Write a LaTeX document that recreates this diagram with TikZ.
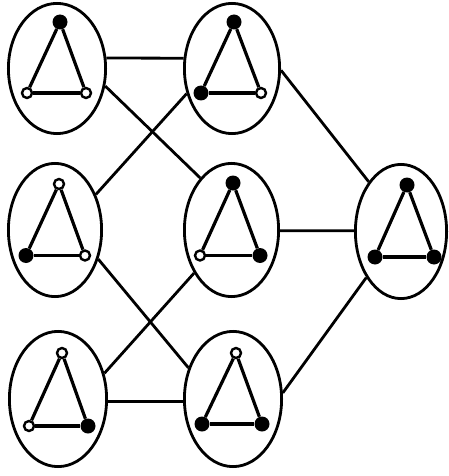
\documentclass[tikz,border=0pt]{standalone}
\usetikzlibrary{shapes.geometric}
\begin{document}
\begin{tikzpicture}[x=1pt,y=-1pt,
  ell/.style={ellipse, draw, line width=2.8pt, inner sep=0pt},
  link/.style={line width=2.8pt},
  triedge/.style={line width=3.2pt},
  bdot/.style={circle, fill=black, inner sep=0pt, minimum size=15pt},
  wdot/.style={circle, draw, fill=white, line width=2.4pt, inner sep=0pt, minimum size=10pt}]
\useasboundingbox (0,0) rectangle (449,476);
% ellipses
\node[ell, minimum width=97.2pt, minimum height=130.2pt] (e1) at (57,68.5) {};
\node[ell, minimum width=95.2pt, minimum height=130.2pt] (e2) at (232,68.5) {};
\node[ell, minimum width=93.2pt, minimum height=133.2pt] (e3) at (55,230) {};
\node[ell, minimum width=94.2pt, minimum height=133.2pt] (e4) at (231.5,230) {};
\node[ell, minimum width=91.2pt, minimum height=134.2pt] (e5) at (401,231.5) {};
\node[ell, minimum width=97.2pt, minimum height=135.2pt] (e6) at (58,399) {};
\node[ell, minimum width=97.2pt, minimum height=135.2pt] (e7) at (233,399) {};
% connectors
\draw[link] (e1.12) -- (e2.168);
\draw[link] (e1.-20) -- (e4.121);
\draw[link] (e3.41) -- (e2.-151);
\draw[link] (e3.-34) -- (e7.145);
\draw[link] (e6.29) -- (e4.-131);
\draw[link] (e6.-3) -- (e7.183);
\draw[link] (e2.-2) -- (e5.123);
\draw[link] (e4.-1) -- (e5.179);
\draw[link] (e7.7) -- (e5.-127);
% dots
\node[bdot] (e1a) at (60,22) {};
\node[wdot] (e1b) at (27,93) {};
\node[wdot] (e1c) at (86,93) {};
\node[bdot] (e2a) at (234,22) {};
\node[bdot] (e2b) at (201,93) {};
\node[wdot] (e2c) at (261,93) {};
\node[wdot] (e3a) at (59,184) {};
\node[bdot] (e3b) at (26,255.5) {};
\node[wdot] (e3c) at (85,255.5) {};
\node[bdot] (e4a) at (233,183) {};
\node[wdot] (e4b) at (200,255.5) {};
\node[bdot] (e4c) at (260,255.5) {};
\node[bdot] (e5a) at (407,185) {};
\node[bdot] (e5b) at (375,257) {};
\node[bdot] (e5c) at (434,257) {};
\node[wdot] (e6a) at (62,353) {};
\node[wdot] (e6b) at (29,426) {};
\node[bdot] (e6c) at (88,426) {};
\node[wdot] (e7a) at (236,353) {};
\node[bdot] (e7b) at (202,424) {};
\node[bdot] (e7c) at (262,424) {};
% triangles
\foreach \t in {e1,e2,e3,e4,e5,e6,e7}{
  \draw[triedge] (\t a) -- (\t b);
  \draw[triedge] (\t b) -- (\t c);
  \draw[triedge] (\t c) -- (\t a);
}
\end{tikzpicture}
\end{document}
